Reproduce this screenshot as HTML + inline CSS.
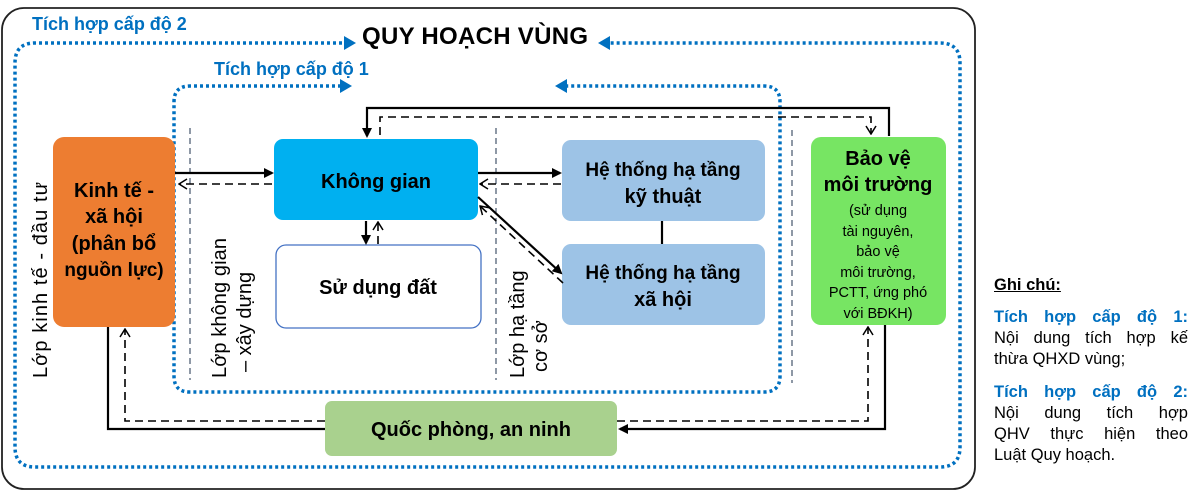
<!DOCTYPE html>
<html><head><meta charset="utf-8"><style>
html,body{margin:0;padding:0;background:#fff;width:1200px;height:498px;overflow:hidden;position:relative}
svg{display:block;font-family:"Liberation Sans",sans-serif}
.b{font-weight:bold}
#lg{position:absolute;left:994px;top:275px;width:194px;font-family:"Liberation Sans",sans-serif;font-size:16.5px;line-height:21px;color:#000}
#lg div{white-space:nowrap}
#lg .j{text-align:justify;text-align-last:justify}
#lg .h{font-weight:bold;text-decoration:underline;margin-bottom:11px}
#lg .c{color:#0070C0;font-weight:bold}
#lg .g{margin-top:12px}
</style></head><body>
<svg width="1200" height="498" viewBox="0 0 1200 498" xmlns="http://www.w3.org/2000/svg">
<defs>
<marker id="a" markerWidth="10" markerHeight="10" refX="8" refY="5" orient="auto" markerUnits="userSpaceOnUse"><path d="M0,0 L10,5 L0,10 z" fill="#000"/></marker>
<marker id="o" markerWidth="10" markerHeight="12" refX="9" refY="6" orient="auto" markerUnits="userSpaceOnUse"><path d="M1,1 L9,6 L1,11" fill="none" stroke="#000" stroke-width="1.5"/></marker>
</defs>
<rect x="2" y="8" width="973" height="481" rx="22" fill="#fff" stroke="#222" stroke-width="1.8"/>
<g fill="none" stroke="#0070C0" stroke-width="3.5" stroke-dasharray="3,3">
<path d="M348,43 L35,43 Q15,43 15,63 L15,447 Q15,467 35,467 L940,467 Q960,467 960,447 L960,63 Q960,43 940,43 L608,43" />
<path d="M347,86 L190,86 Q174,86 174,102 L174,376 Q174,392 190,392 L764,392 Q780,392 780,376 L780,102 Q780,86 764,86 L562,86"/>
</g>
<path d="M356,43 L344,36 L344,50 z" fill="#0070C0"/>
<path d="M598,43 L610,36 L610,50 z" fill="#0070C0"/>
<path d="M352,86 L340,79 L340,93 z" fill="#0070C0"/>
<path d="M555,86 L567,79 L567,93 z" fill="#0070C0"/>
<text x="32" y="30" font-size="18" fill="#0070C0" class="b">Tích hợp cấp độ 2</text>
<text x="214" y="75" font-size="18" fill="#0070C0" class="b">Tích hợp cấp độ 1</text>
<text x="362" y="44" font-size="24" class="b" textLength="226">QUY HOẠCH VÙNG</text>
<g stroke="#44546A" stroke-width="1.2" stroke-dasharray="6,4">
<line x1="190" y1="128" x2="190" y2="380"/>
<line x1="496" y1="128" x2="496" y2="380"/>
<line x1="792" y1="130" x2="792" y2="383"/>
</g>
<rect x="53" y="137" width="122" height="190" rx="11" fill="#ED7D31"/>
<rect x="274" y="139" width="204" height="81" rx="9" fill="#00B0F0"/>
<rect x="276" y="245" width="205" height="83" rx="10" fill="#fff" stroke="#4472C4" stroke-width="1.3"/>
<rect x="562" y="140" width="203" height="81" rx="9" fill="#9DC3E6"/>
<rect x="562" y="244" width="203" height="81" rx="9" fill="#9DC3E6"/>
<rect x="811" y="137" width="135" height="188" rx="10" fill="#77E563"/>
<rect x="325" y="401" width="292" height="55" rx="7" fill="#A9D18E"/>
<g class="b" font-size="20" text-anchor="middle">
<text x="114" y="197">Kinh tế -</text>
<text x="114" y="223">xã hội</text>
<text x="114" y="250">(phân bổ</text>
<text x="114" y="276" font-size="19">nguồn lực)</text>
<text x="376" y="188">Không gian</text>
<text x="378" y="294">Sử dụng đất</text>
<text x="663" y="176" font-size="19">Hệ thống hạ tầng</text>
<text x="663" y="203">kỹ thuật</text>
<text x="663" y="279" font-size="19">Hệ thống hạ tầng</text>
<text x="663" y="306">xã hội</text>
<text x="878" y="165">Bảo vệ</text>
<text x="878" y="191">môi trường</text>
<text x="471" y="436">Quốc phòng, an ninh</text>
</g>
<g font-size="14.5" text-anchor="middle">
<text x="878" y="215">(sử dụng</text>
<text x="878" y="236">tài nguyên,</text>
<text x="878" y="256">bảo vệ</text>
<text x="878" y="277">môi trường,</text>
<text x="878" y="297">PCTT, ứng phó</text>
<text x="878" y="318">với BĐKH)</text>
</g>
<g font-size="20">
<text transform="translate(47,378) rotate(-90)" textLength="196">Lớp kinh tế - đầu tư</text>
<text transform="translate(226,378) rotate(-90)" textLength="140">Lớp không gian</text>
<text transform="translate(251,372) rotate(-90)">– xây dựng</text>
<text transform="translate(524,378) rotate(-90)">Lớp hạ tầng</text>
<text transform="translate(547,372) rotate(-90)">cơ sở</text>
</g>
<g fill="none" stroke="#000" stroke-width="2.2">
<path d="M889,136 L889,108 L367,108 L367,136" marker-end="url(#a)"/>
<line x1="175" y1="173" x2="272" y2="173" marker-end="url(#a)"/>
<line x1="478" y1="173" x2="560" y2="173" marker-end="url(#a)"/>
<line x1="478" y1="197" x2="561" y2="273" marker-end="url(#a)"/>
<line x1="366" y1="221" x2="366" y2="243" marker-end="url(#a)"/>
<line x1="662" y1="221" x2="662" y2="244"/>
<path d="M108,327 L108,429 L325,429"/>
<path d="M885,325 L885,429 L620,429" marker-end="url(#a)"/>
</g>
<g fill="none" stroke="#000" stroke-width="1.6" stroke-dasharray="8,5">
<path d="M380,135 L380,117 L871,117 L871,134" marker-end="url(#o)"/>
<line x1="272" y1="184" x2="179" y2="184" marker-end="url(#o)"/>
<line x1="561" y1="184" x2="480" y2="184" marker-end="url(#o)"/>
<line x1="563" y1="283" x2="480" y2="206" marker-end="url(#o)"/>
<line x1="378" y1="244" x2="378" y2="222" marker-end="url(#o)"/>
<path d="M325,421 L125,421 L125,329" marker-end="url(#o)"/>
<path d="M617,421 L868,421 L868,327" marker-end="url(#o)"/>
</g>
</svg>
<div id="lg">
<div class="h">Ghi chú:</div>
<div class="j c">Tích hợp cấp độ 1:</div>
<div class="j">Nội dung tích hợp kế</div>
<div>thừa QHXD vùng;</div>
<div class="j c g">Tích hợp cấp độ 2:</div>
<div class="j">Nội dung tích hợp</div>
<div class="j">QHV thực hiện theo</div>
<div>Luật Quy hoạch.</div>
</div>
</body></html>
